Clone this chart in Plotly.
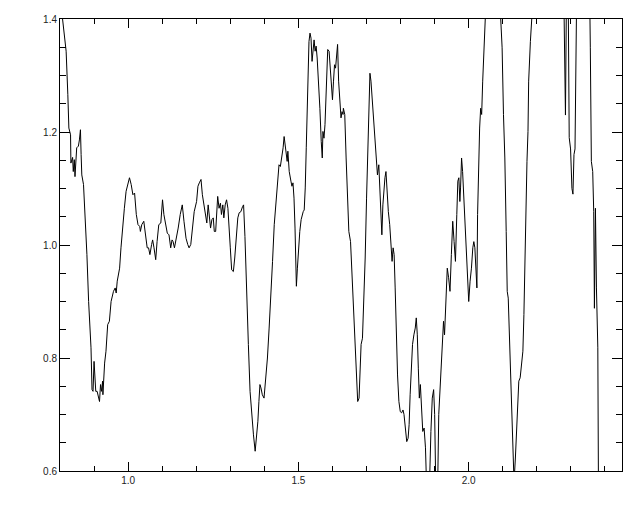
import plotly.graph_objects as go

# wavelength (x) and normalized flux (y)
wavelength = [
    0.802, 0.818, 0.823, 0.826, 0.831, 0.832, 0.837, 0.839, 0.842, 0.844,
    0.849, 0.854, 0.857, 0.860, 0.862, 0.864, 0.869, 0.874, 0.879, 0.884,
    0.888, 0.891, 0.894, 0.897, 0.900, 0.902, 0.905, 0.909, 0.913, 0.916,
    0.919, 0.922, 0.925, 0.926, 0.931, 0.935, 0.940, 0.945, 0.950, 0.957,
    0.962, 0.965, 0.968, 0.975, 0.979, 0.984, 0.989, 0.994, 0.999, 1.004,
    1.009, 1.014, 1.019, 1.024, 1.029, 1.034, 1.036, 1.040, 1.046, 1.050,
    1.056, 1.060, 1.064, 1.069, 1.072, 1.076, 1.081, 1.085, 1.090, 1.096,
    1.101, 1.105, 1.110, 1.115, 1.120, 1.125, 1.129, 1.132, 1.136, 1.140,
    1.147, 1.153, 1.159, 1.164, 1.170, 1.175, 1.179, 1.184, 1.188, 1.194,
    1.201, 1.205, 1.209, 1.214, 1.218, 1.223, 1.228, 1.231, 1.235, 1.238,
    1.242, 1.246, 1.250, 1.253, 1.257, 1.263, 1.267, 1.271, 1.274, 1.278,
    1.281, 1.285, 1.289, 1.293, 1.296, 1.300, 1.304, 1.309, 1.313, 1.317,
    1.322, 1.326, 1.331, 1.336, 1.339, 1.343, 1.348, 1.353, 1.358, 1.363,
    1.368, 1.373, 1.376, 1.381, 1.384, 1.387, 1.390, 1.394, 1.399, 1.404,
    1.409, 1.414, 1.419, 1.424, 1.429, 1.434, 1.438, 1.443, 1.447, 1.451,
    1.455, 1.458, 1.461, 1.464, 1.467, 1.469, 1.473, 1.478, 1.481, 1.484,
    1.487, 1.490, 1.492, 1.494, 1.497, 1.500, 1.504, 1.508, 1.511, 1.514,
    1.517, 1.520, 1.523, 1.526, 1.529, 1.531, 1.534, 1.537, 1.540, 1.543,
    1.546, 1.549, 1.552, 1.555, 1.559, 1.563, 1.567, 1.570, 1.572, 1.575,
    1.578, 1.581, 1.584, 1.586, 1.590, 1.593, 1.596, 1.600, 1.603, 1.606,
    1.609, 1.612, 1.615, 1.618, 1.622, 1.625, 1.628, 1.631, 1.632, 1.636,
    1.640, 1.644, 1.648, 1.653, 1.657, 1.662, 1.666, 1.670, 1.674, 1.678,
    1.681, 1.684, 1.688, 1.692, 1.696, 1.700, 1.704, 1.707, 1.710, 1.713,
    1.717, 1.721, 1.725, 1.729, 1.732, 1.736, 1.739, 1.742, 1.745, 1.748,
    1.751, 1.754, 1.757, 1.760, 1.764, 1.768, 1.772, 1.775, 1.778, 1.781,
    1.784, 1.787, 1.791, 1.795, 1.799, 1.803, 1.807, 1.810, 1.814, 1.818,
    1.822, 1.825, 1.828, 1.832, 1.835, 1.839, 1.843, 1.846, 1.849, 1.852,
    1.855, 1.858, 1.861, 1.865, 1.869, 1.873, 1.876, 1.885, 1.889, 1.893,
    1.897, 1.900, 1.903, 1.909, 1.912, 1.917, 1.922, 1.926, 1.929, 1.934,
    1.937, 1.941, 1.945, 1.949, 1.953, 1.957, 1.961, 1.965, 1.968, 1.971,
    1.974, 1.976, 1.979, 1.982, 1.985, 1.988, 1.991, 1.994, 1.997, 2.000,
    2.004, 2.008, 2.012, 2.015, 2.018, 2.021, 2.024, 2.026, 2.029, 2.032,
    2.035, 2.038, 2.041, 2.044, 2.047, 2.052, 2.090, 2.098, 2.102, 2.106,
    2.110, 2.113, 2.116, 2.120, 2.124, 2.128, 2.131, 2.133, 2.137, 2.140,
    2.144, 2.147, 2.151, 2.155, 2.159, 2.162, 2.165, 2.168, 2.171, 2.174,
    2.176, 2.181, 2.186, 2.190, 2.279, 2.282, 2.284, 2.287, 2.292, 2.295,
    2.299, 2.303, 2.306, 2.309, 2.312, 2.317, 2.355, 2.357, 2.359, 2.360,
    2.364, 2.367, 2.369, 2.370, 2.372, 2.375, 2.379, 2.381, 2.383,
]

flux = [
    1.430, 1.343, 1.266, 1.207, 1.195, 1.145, 1.155, 1.130, 1.151, 1.121,
    1.172, 1.175, 1.186, 1.204, 1.160, 1.124, 1.107, 1.054, 0.983, 0.900,
    0.847, 0.818, 0.744, 0.741, 0.794, 0.759, 0.741, 0.741, 0.732, 0.723,
    0.753, 0.741, 0.759, 0.735, 0.791, 0.812, 0.859, 0.865, 0.900, 0.918,
    0.924, 0.915, 0.936, 0.959, 0.995, 1.036, 1.065, 1.095, 1.110, 1.119,
    1.107, 1.089, 1.092, 1.054, 1.036, 1.033, 1.024, 1.036, 1.042, 1.018,
    0.995, 0.995, 0.983, 1.001, 1.009, 0.995, 0.974, 1.006, 1.036, 1.039,
    1.080, 1.054, 1.036, 1.021, 1.018, 0.995, 1.009, 1.006, 0.995, 1.006,
    1.030, 1.054, 1.071, 1.042, 1.012, 1.001, 0.995, 1.001, 1.024, 1.059,
    1.077, 1.104, 1.110, 1.116, 1.089, 1.071, 1.054, 1.039, 1.071, 1.054,
    1.030, 1.045, 1.048, 1.024, 1.024, 1.086, 1.065, 1.074, 1.054, 1.071,
    1.048, 1.071, 1.080, 1.065, 1.042, 0.995, 0.956, 0.953, 0.977, 1.018,
    1.048, 1.057, 1.059, 1.068, 1.071, 1.015, 0.905, 0.824, 0.741, 0.694,
    0.664, 0.635, 0.652, 0.688, 0.723, 0.753, 0.747, 0.735, 0.729, 0.765,
    0.800, 0.853, 0.906, 0.971, 1.036, 1.077, 1.113, 1.142, 1.139, 1.154,
    1.172, 1.192, 1.175, 1.160, 1.148, 1.166, 1.130, 1.113, 1.104, 1.110,
    1.083, 1.030, 0.965, 0.927, 0.959, 0.995, 1.024, 1.045, 1.054, 1.059,
    1.062, 1.101, 1.172, 1.260, 1.313, 1.360, 1.375, 1.366, 1.325, 1.355,
    1.363, 1.343, 1.352, 1.331, 1.290, 1.242, 1.183, 1.154, 1.201, 1.189,
    1.213, 1.260, 1.313, 1.346, 1.343, 1.313, 1.278, 1.257, 1.290, 1.319,
    1.313, 1.337, 1.355, 1.290, 1.248, 1.225, 1.236, 1.231, 1.242, 1.231,
    1.154, 1.077, 1.024, 1.006, 0.947, 0.888, 0.829, 0.759, 0.723, 0.729,
    0.782, 0.824, 0.835, 0.894, 0.977, 1.083, 1.183, 1.266, 1.304, 1.290,
    1.254, 1.219, 1.201, 1.160, 1.124, 1.142, 1.107, 1.065, 1.018, 1.071,
    1.101, 1.119, 1.130, 1.095, 1.059, 1.036, 1.006, 0.971, 0.995, 0.983,
    0.924, 0.841, 0.770, 0.723, 0.705, 0.703, 0.708, 0.700, 0.670, 0.652,
    0.658, 0.682, 0.735, 0.782, 0.824, 0.841, 0.853, 0.871, 0.841, 0.782,
    0.729, 0.753, 0.723, 0.670, 0.676, 0.641, 0.580, 0.580, 0.670, 0.729,
    0.744, 0.700, 0.580, 0.580, 0.700, 0.770, 0.818, 0.865, 0.841, 0.900,
    0.959, 0.942, 0.918, 0.983, 1.042, 1.006, 0.971, 1.054, 1.113, 1.119,
    1.077, 1.101, 1.154, 1.130, 1.089, 1.054, 1.030, 0.983, 0.936, 0.900,
    0.936, 0.959, 0.995, 1.006, 0.995, 0.959, 0.924, 1.054, 1.142, 1.207,
    1.242, 1.231, 1.290, 1.349, 1.390, 1.450, 1.450, 1.349, 1.231, 1.154,
    1.024, 0.918, 0.906, 0.818, 0.759, 0.676, 0.623, 0.580, 0.623, 0.670,
    0.729, 0.759, 0.765, 0.788, 0.812, 0.877, 0.995, 1.113, 1.148, 1.201,
    1.290, 1.360, 1.396, 1.450, 1.450, 1.250, 1.230, 1.450, 1.450, 1.190,
    1.170, 1.100, 1.090, 1.160, 1.170, 1.450, 1.450, 1.349, 1.231, 1.148,
    1.130, 1.059, 0.888, 1.024, 1.065, 0.924, 0.818, 0.550, 0.500,
]

x_range = [0.8, 2.45]
y_range = [0.6, 1.4]

fig = go.Figure()
fig.add_trace(go.Scatter(
    x=wavelength, y=flux, mode="lines",
    line=dict(color="black", width=1),
    hoverinfo="skip", showlegend=False,
))
# helper trace (draws nothing) so the top/right tick axes are rendered
fig.add_trace(go.Scatter(
    x=[x_range[0]], y=[y_range[0]], mode="lines", xaxis="x2", yaxis="y2",
    line=dict(color="rgba(0,0,0,0)", width=0),
    hoverinfo="skip", showlegend=False,
))

font = dict(family="Liberation Sans, Arial, sans-serif", size=10, color="#222")

x_ticks = dict(range=x_range, tick0=0, dtick=0.5, tickformat=".1f",
               ticks="inside", ticklen=9, tickwidth=1, tickcolor="black",
               showgrid=False, zeroline=False, tickfont=font,
               minor=dict(tick0=0, dtick=0.1, ticks="inside", ticklen=5,
                          tickcolor="black", tickwidth=1, showgrid=False))
y_ticks = dict(range=y_range, tick0=0, dtick=0.2, tickformat=".1f",
               ticks="inside", ticklen=10, tickwidth=1, tickcolor="black",
               showgrid=False, zeroline=False, tickfont=font,
               minor=dict(tick0=0, dtick=0.05, ticks="inside", ticklen=6,
                          tickcolor="black", tickwidth=1, showgrid=False))

fig.update_layout(
    width=640, height=512,
    margin=dict(l=60, r=18, t=19, b=41),
    paper_bgcolor="white", plot_bgcolor="white",
    showlegend=False,
    font=font,
    xaxis=dict(**x_ticks, showline=True, linecolor="black", linewidth=1, mirror=True),
    yaxis=dict(**y_ticks, showline=True, linecolor="black", linewidth=1, mirror=True),
    xaxis2=dict(**x_ticks, overlaying="x", anchor="y", side="top",
                showline=False, showticklabels=False),
    yaxis2=dict(**y_ticks, overlaying="y", anchor="x", side="right",
                showline=False, showticklabels=False),
)

fig.write_html(
    "out.html",
    config={"displayModeBar": False},
    post_script="document.body.style.margin='0';document.body.style.padding='0';",
)
